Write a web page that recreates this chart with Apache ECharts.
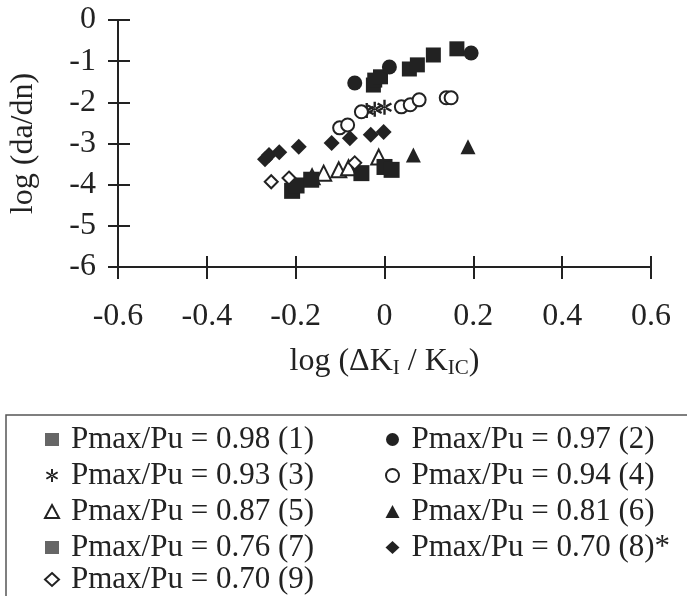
<!DOCTYPE html>
<html>
<head>
<meta charset="utf-8">
<script src="https://cdn.jsdelivr.net/npm/echarts@6/dist/echarts.min.js"></script>
<style>
  html, body { margin: 0; padding: 0; background: #fff; }
  #chart { width: 687px; height: 596px; }
</style>
</head>
<body>
<div id="chart"></div>
<script>
// points: [log(dK/Kic), log(da/dn)]
const p098 = [[-0.025, -1.58], [-0.022, -1.46], [-0.009, -1.38], [0.056, -1.19], [0.074, -1.09], [0.110, -0.85], [0.163, -0.70]]
const p097 = [[-0.067, -1.53], [0.011, -1.14], [0.195, -0.80]]
const p093 = [[-0.04, -2.20], [-0.022, -2.17], [0.0, -2.12]]
const p094 = [[-0.101, -2.62], [-0.083, -2.55], [-0.052, -2.23], [0.038, -2.11], [0.058, -2.06], [0.078, -1.94], [0.139, -1.89], [0.150, -1.89]]
const p087 = [[-0.163, -3.81], [-0.137, -3.72], [-0.103, -3.64], [-0.081, -3.59], [-0.013, -3.33]]
const p081 = [[0.065, -3.28], [0.188, -3.08]]
const p076 = [[-0.208, -4.15], [-0.198, -4.02], [-0.165, -3.88], [-0.052, -3.72], [0.0, -3.57], [0.016, -3.64]]
const p070s = [[-0.269, -3.38], [-0.26, -3.28], [-0.237, -3.21], [-0.193, -3.08], [-0.119, -2.99], [-0.078, -2.87], [-0.031, -2.79], [-0.002, -2.72]]
const p070 = [[-0.255, -3.93], [-0.215, -3.84], [-0.067, -3.47]]

const names = ['Pmax/Pu = 0.98 (1)', 'Pmax/Pu = 0.97 (2)', 'Pmax/Pu = 0.93 (3)', 'Pmax/Pu = 0.94 (4)',
    'Pmax/Pu = 0.87 (5)', 'Pmax/Pu = 0.81 (6)', 'Pmax/Pu = 0.76 (7)', 'Pmax/Pu = 0.70 (8)*', 'Pmax/Pu = 0.70 (9)']
const xTicks = [-0.6, 0.6, 0.2]   // min, max, step
const yTicks = [-6, 0, 1]

const serif = 'Liberation Serif'
const ink = '#222'
// asterisk glyph: one vertical bar and two diagonals
const asterisk = 'path://M8.5,0L11.5,0L11.5,20L8.5,20Z M17.91,16.3L19.41,13.7L2.09,3.7L0.59,6.3Z M19.41,6.3L17.91,3.7L0.59,13.7L2.09,16.3Z'

function sc(name, data, symbol, size, open) {
    return {
        name: name, type: 'scatter', data: data, symbol: symbol, symbolSize: size,
        itemStyle: open ? {color: ink, borderColor: ink, borderWidth: 2.2, opacity: 1} : {color: ink, opacity: 1}
    }
}

const axisFont = {fontFamily: serif, fontSize: 32, color: ink}
const legendText = {fontFamily: serif, fontSize: 31, color: ink, lineHeight: 30, padding: [0, 0, 0, 7]}
function legendCol(left, top, items) {
    return {
        orient: 'vertical', left: left, top: top, padding: 0, itemGap: 5, height: 160,
        itemWidth: 14, itemHeight: 13, textStyle: legendText, data: items
    }
}

const chart = echarts.init(document.getElementById('chart'))
chart.setOption({
    animation: false,
    grid: {left: 115, top: 20, width: 536, height: 247},
    xAxis: [{
        type: 'value', min: xTicks[0], max: xTicks[1], interval: xTicks[2],
        name: 'log (ΔK{s|I} / K{s|IC})', nameLocation: 'middle', nameGap: 77,
        nameTextStyle: {
            fontFamily: serif, fontSize: 32, color: ink,
            rich: {s: {fontFamily: serif, fontSize: 21, color: ink, padding: [14, 0, 0, 0]}}
        },
        axisLine: {onZero: false, lineStyle: {color: ink, width: 2}},
        axisTick: {length: 12, lineStyle: {color: ink, width: 2}},
        axisLabel: Object.assign({margin: 34}, axisFont),
        splitLine: {show: false}
    }, {
        // second copy only to draw the inner half of the crossing ticks
        type: 'value', min: xTicks[0], max: xTicks[1], interval: xTicks[2], position: 'bottom',
        axisLine: {show: false, onZero: false},
        axisTick: {inside: true, length: 11, lineStyle: {color: ink, width: 2}},
        axisLabel: {show: false}, splitLine: {show: false}
    }],
    yAxis: [{
        type: 'value', min: yTicks[0], max: yTicks[1], interval: yTicks[2],
        name: 'log (da/dn)', nameLocation: 'middle', nameGap: 78, nameRotate: 90,
        nameTextStyle: {fontFamily: serif, fontSize: 32, color: ink},
        axisLine: {onZero: false, lineStyle: {color: ink, width: 2}},
        axisTick: {length: 10, lineStyle: {color: ink, width: 2}},
        axisLabel: Object.assign({margin: 22}, axisFont),
        splitLine: {show: false}
    }, {
        type: 'value', min: yTicks[0], max: yTicks[1], interval: yTicks[2], position: 'left',
        axisLine: {show: false, onZero: false},
        axisTick: {inside: true, length: 12, lineStyle: {color: ink, width: 2}},
        axisLabel: {show: false}, splitLine: {show: false}
    }],
    legend: [
        legendCol(44, 424, [{name: names[0], itemStyle: {color: '#666'}}, names[2], names[4],
            {name: names[6], itemStyle: {color: '#666'}}]),
        legendCol(385, 424, [names[1], names[3], names[5], names[7]]),
        legendCol(44, 564, [names[8]])
    ],
    graphic: [{
        type: 'rect', shape: {x: 6, y: 415, width: 700, height: 200},
        style: {fill: 'none', stroke: '#555', lineWidth: 1.5}
    }],
    series: [
        sc(names[0], p098, 'rect', 15),
        sc(names[1], p097, 'circle', 15),
        sc(names[2], p093, asterisk, 15),
        sc(names[3], p094, 'emptyCircle', 13, true),
        sc(names[4], p087, 'emptyTriangle', 15, true),
        sc(names[5], p081, 'triangle', 15),
        sc(names[6], p076, 'rect', 16),
        sc(names[7], p070s, 'diamond', 16),
        sc(names[8], p070, 'emptyDiamond', 13, true)
    ]
})
</script>
</body>
</html>
